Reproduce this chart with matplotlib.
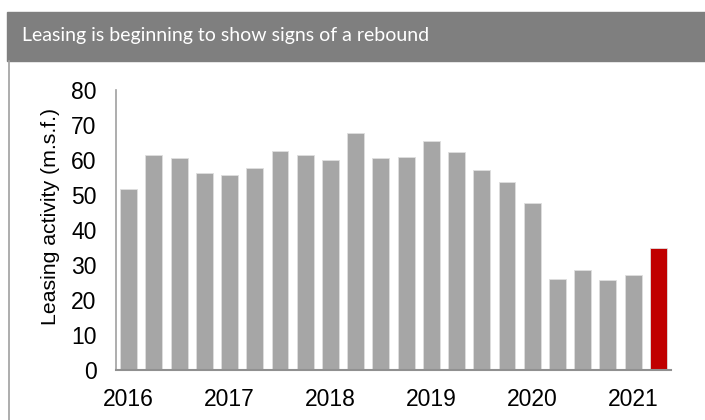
import matplotlib.pyplot as plt
from matplotlib.patches import Rectangle
from matplotlib.lines import Line2D

# Quarterly leasing activity, 2016 Q1 - 2021 Q2 (m.s.f.)
quarters = ['2016 Q1', '2016 Q2', '2016 Q3', '2016 Q4',
            '2017 Q1', '2017 Q2', '2017 Q3', '2017 Q4',
            '2018 Q1', '2018 Q2', '2018 Q3', '2018 Q4',
            '2019 Q1', '2019 Q2', '2019 Q3', '2019 Q4',
            '2020 Q1', '2020 Q2', '2020 Q3', '2020 Q4',
            '2021 Q1', '2021 Q2']
activity = [51.6, 61.4, 60.7, 56.2, 55.8, 57.8, 62.6, 61.4, 60.1, 67.7, 60.7,
            61.0, 65.3, 62.3, 57.1, 53.6, 47.7, 25.9, 28.5, 25.7, 27.1, 34.8]
year_labels = ['2016', '2017', '2018', '2019', '2020', '2021']
yticks = [0, 10, 20, 30, 40, 50, 60, 70, 80]

grey = '#a6a6a6'
red = '#c00000'

fig = plt.figure(figsize=(7.05, 4.2), dpi=100)

# Title banner and frame
W, H = 705, 420
fig.patches.append(Rectangle((7 / W, 1 - 61 / H), 1 - 7 / W, 49 / H,
                             transform=fig.transFigure, color='#7f7f7f', zorder=0))
fig.lines.append(Line2D([8.5 / W, 8.5 / W], [0, 1 - 61 / H],
                        transform=fig.transFigure, color='#a0a0a0', lw=1.2))
fig.text(22 / W, 1 - 36 / H, 'Leasing is beginning to show signs of a rebound',
         color='white', fontsize=14, family='Lato', va='center', ha='left')

ax = fig.add_axes([116 / W, 1 - 370 / H, 555 / W, 280 / H])
x = list(range(len(activity)))
colors = [grey] * (len(activity) - 1) + [red]
ax.bar(x, activity, width=0.67, color=colors, edgecolor='#dedede', linewidth=0.6)

ax.set_xlim(-0.5, len(activity) - 0.5)
ax.set_ylim(0, 80)
ax.set_yticks(yticks)
ax.set_xticks(x[::4])
ax.set_xticklabels(year_labels)
ax.tick_params(axis='both', length=0, labelsize=16.5)
ax.tick_params(axis='y', pad=14)
ax.tick_params(axis='x', pad=13)
for lbl in ax.get_xticklabels() + ax.get_yticklabels():
    lbl.set_family('Liberation Sans')
ax.set_ylabel('Leasing activity (m.s.f.)', fontsize=15.3, family='Liberation Sans')
ax.yaxis.set_label_coords(-0.101, 0.55)

for side in ['top', 'right']:
    ax.spines[side].set_visible(False)
ax.spines['left'].set_color('#a0a0a0')
ax.spines['bottom'].set_color('#909090')
ax.spines['left'].set_linewidth(1.2)
ax.spines['bottom'].set_linewidth(1.5)

fig.savefig('out.png', dpi=100)
